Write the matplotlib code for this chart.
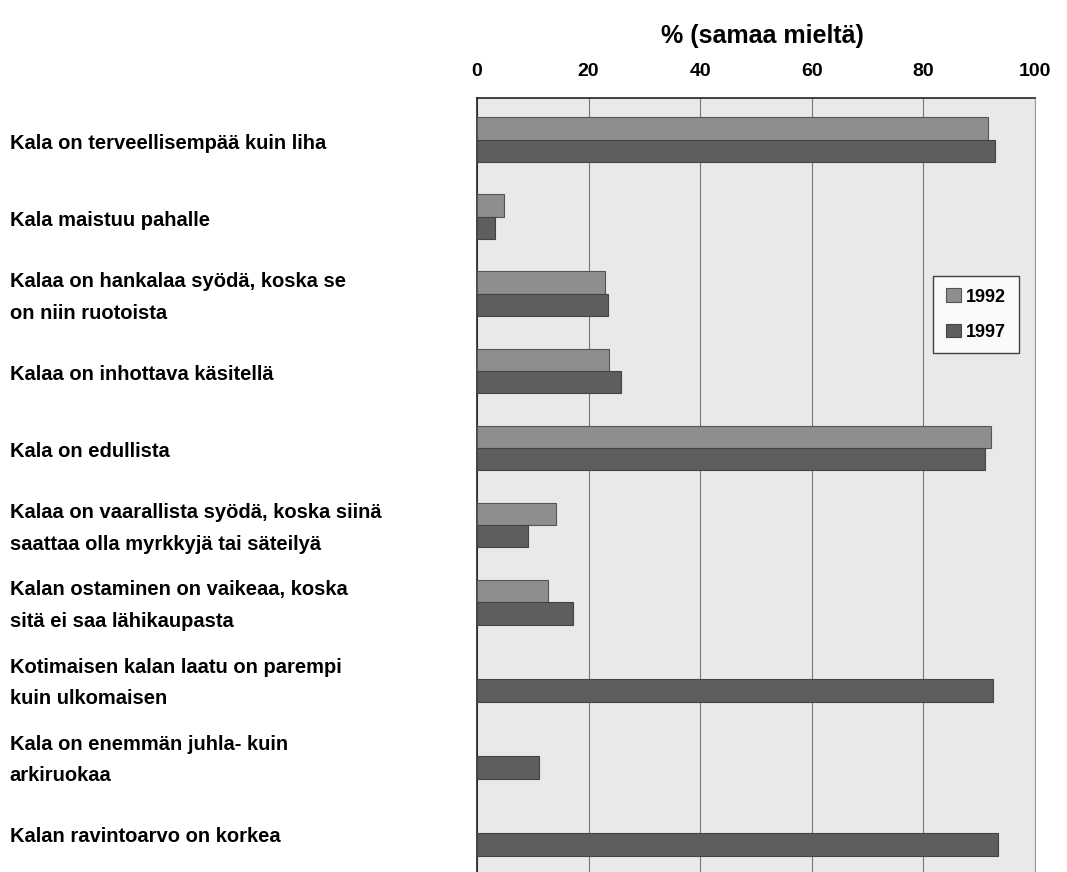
import matplotlib.pyplot as plt
import matplotlib.transforms as mtransforms
import numpy as np

plt.rcParams['font.family'] = ['Liberation Sans', 'DejaVu Sans']

statements = [
    'Kala on terveellisempää kuin liha',
    'Kala maistuu pahalle',
    'Kalaa on hankalaa syödä, koska se\non niin ruotoista',
    'Kalaa on inhottava käsitellä',
    'Kala on edullista',
    'Kalaa on vaarallista syödä, koska siinä\nsaattaa olla myrkkyjä tai säteilyä',
    'Kalan ostaminen on vaikeaa, koska\nsitä ei saa lähikaupasta',
    'Kotimaisen kalan laatu on parempi\nkuin ulkomaisen',
    'Kala on enemmän juhla- kuin\narkiruokaa',
    'Kalan ravintoarvo on korkea',
]
# None = not asked that year
values_1992 = [91.5, 4.8, 22.9, 23.7, 92.1, 14.2, 12.7, None, None, None]
values_1997 = [92.8, 3.2, 23.5, 25.8, 91.0, 9.1, 17.2, 92.5, 11.1, 93.4]
years = ['1992', '1997']
xticks = [0, 20, 40, 60, 80, 100]

fig = plt.figure(figsize=(10.67, 8.72), dpi=100)
ax = fig.add_axes([0.447, 0.0, 0.523, 0.888])
ax.set_facecolor('#e9e9e9')

y = np.arange(len(statements))
h = 0.29
v92 = [np.nan if v is None else v for v in values_1992]
ax.barh(y - h / 2, v92, height=h, color='#8e8e8e', edgecolor='#555555',
        linewidth=0.8, label=years[0], zorder=3)
ax.barh(y + h / 2, values_1997, height=h, color='#5e5e5e', edgecolor='#444444',
        linewidth=0.8, label=years[1], zorder=3)

ax.set_xlim(0, 100)
ax.set_ylim(9.5, -0.545)
ax.xaxis.tick_top()
ax.set_xticks(xticks)
ax.set_xticklabels([str(t) for t in xticks], fontsize=14, fontweight='bold')
ax.tick_params(axis='x', length=0, pad=13)
ax.set_yticks([])
ax.set_xlabel('% (samaa mieltä)', fontsize=18, fontweight='bold', labelpad=14)
ax.xaxis.set_label_position('top')
ax.xaxis.label.set_x(0.511)
ax.grid(axis='x', color='#777777', linewidth=0.8, zorder=1)

for side in ['top', 'left']:
    ax.spines[side].set_color('#222222')
    ax.spines[side].set_linewidth(1.2)
ax.spines['right'].set_color('#999999')
ax.spines['bottom'].set_visible(False)

# statement labels sit at the far left of the figure, aligned to each group
trans = mtransforms.blended_transform_factory(fig.transFigure, ax.transData)
for i, s in enumerate(statements):
    ax.text(0.009, i + 0.045, s, transform=trans, ha='left', va='center',
            fontsize=14.5, fontweight='bold', linespacing=1.83, clip_on=False)

leg = ax.legend(loc='upper left', bbox_to_anchor=(0.818, 0.77),
                prop={'weight': 'bold', 'size': 13}, frameon=True, fancybox=False,
                handlelength=0.8, handleheight=0.8, handletextpad=0.3,
                borderpad=0.7, labelspacing=1.0, borderaxespad=0)
leg.get_frame().set_edgecolor('#111111')
leg.get_frame().set_facecolor('white')
leg.get_frame().set_linewidth(1.0)

fig.savefig('out.png', dpi=100)
